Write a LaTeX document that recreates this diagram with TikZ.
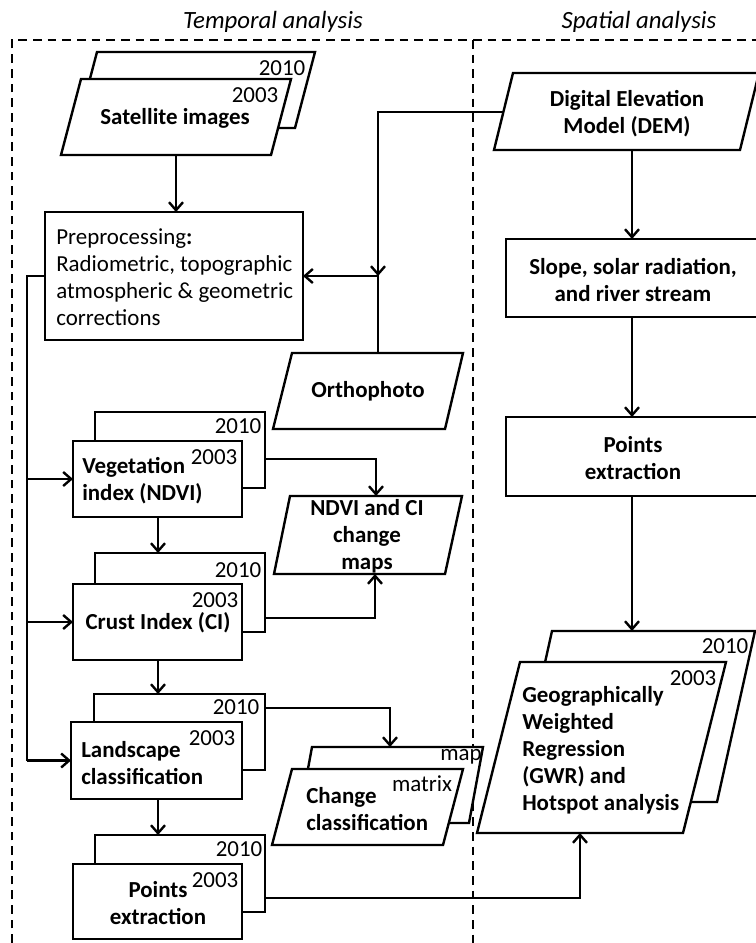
\documentclass[tikz,border=0pt]{standalone}
\usepackage{fontspec}
\setmainfont{Carlito}
\usetikzlibrary{arrows.meta,fit}
\begin{document}
\begin{tikzpicture}[x=0.75pt,y=-0.75pt,
  shp/.style={draw=black,line width=1.8pt,fill=white,line join=miter},
  rbox/.style={shp,inner sep=0pt,outer sep=0pt},
  ln/.style={line width=1.8pt},
  conn/.style={ln,-{Straight Barb[length=6pt,width=10.5pt]}},
  frame/.style={line width=1.5pt,dash pattern=on 6.5pt off 4.5pt},
  lbl/.style={inner sep=0pt,font=\fontsize{17.2}{20.25}\selectfont},
  blbl/.style={inner sep=0pt,font=\fontsize{17.2}{20.25}\selectfont\bfseries},
  ttl/.style={inner sep=0pt,font=\fontsize{18.6}{20}\selectfont\itshape},
]
\clip (0,0) rectangle (756,943);

% frame and titles
\draw[frame] (12,943) -- (12,40) -- (760,40);
\draw[frame] (473,40) -- (473,943);
\node[ttl] (ttemp) at (273,22) {Temporal analysis};
\node[ttl] (tspat) at (639,22) {Spatial analysis};

% Satellite images
\draw[shp] (77,128) -- (97,52) -- (315,52) -- (295,128) -- cycle;
\node[lbl] (sat10) at (282,68) {2010};
\draw[shp] (61,155) -- (81,79) -- (291,79) -- (271,155) -- cycle;
\node[lbl] (sat03) at (255,95) {2003};
\node[blbl] (sat) at (175,118) {Satellite images};
\coordinate (satS) at (176,155);

% Preprocessing
\node[rbox,fit={(45,212) (303,340)}] (pre) {};
\node[lbl,align=left,anchor=west] (preT) at (56,277) {Preprocessing\textbf{:}\\Radiometric, topographic\\atmospheric \& geometric\\corrections};
\draw[conn] (satS) -- (pre.north -| satS);

% DEM
\draw[shp] (494,150) -- (513,73) -- (759,73) -- (740,150) -- cycle;
\node[blbl,align=center] (demT) at (627,114) {Digital Elevation\\Model (DEM)};
\coordinate (demW) at (503,112);
\coordinate (demS) at (632,150);
\coordinate (jn) at (378,276);

% Orthophoto
\draw[shp] (273,429) -- (292,353) -- (463,353) -- (445,429) -- cycle;
\node[blbl] (orthoT) at (368,391) {Orthophoto};
\coordinate (orthoN) at (378,353);

\draw[conn] (demW) -| (jn);
\draw[conn] (orthoN) -- (jn) -- (pre.east);

% Slope
\node[rbox,fit={(506,239) (758,317)}] (slope) {};
\node[blbl,align=center] (slopeT) at (633,280) {Slope, solar radiation,\\and river stream};
\draw[conn] (demS) -- (slope.north -| demS);

% Points extraction (right)
\node[rbox,fit={(506,417) (758,496)}] (ptsR) {};
\node[blbl,align=center] (ptsRT) at (633,458) {Points\\extraction};
\draw[conn] (slope.south -| demS) -- (ptsR.north -| demS);

% GWR
\draw[shp] (514,802) -- (552,631) -- (755,631) -- (717,802) -- cycle;
\node[lbl] (gwr10) at (725,646) {2010};
\draw[shp] (477,833) -- (520,662) -- (726,662) -- (683,833) -- cycle;
\node[lbl] (gwr03) at (693,678) {2003};
\node[blbl,align=left,anchor=west] (gwrT) at (522,750) {Geographically\\Weighted\\Regression\\(GWR) and\\Hotspot analysis};
\coordinate (gwrN) at (632,631);
\coordinate (gwrS) at (580,833);
\draw[conn] (ptsR.south -| gwrN) -- (gwrN);

% Vegetation index
\node[rbox,fit={(95,412) (265,488)}] (vegB) {};
\node[lbl] (veg10) at (238,426) {2010};
\node[rbox,fit={(73,441) (242,517)}] (veg) {};
\node[lbl] (veg03) at (214,457) {2003};
\node[blbl,align=left,anchor=west] (vegT) at (82,481) {Vegetation\\index (NDVI)};

% Crust index
\node[rbox,fit={(95,553) (265,632)}] (cruB) {};
\node[lbl] (cru10) at (238,570) {2010};
\node[rbox,fit={(73,584) (242,660)}] (cru) {};
\node[lbl] (cru03) at (215,600) {2003};
\node[blbl] (cruT) at (158,623) {Crust Index (CI)};

% Landscape classification
\node[rbox,fit={(94,694) (265,770)}] (lanB) {};
\node[lbl] (lan10) at (236,707) {2010};
\node[rbox,fit={(71,722) (242,799)}] (lan) {};
\node[lbl] (lan03) at (212,738) {2003};
\node[blbl,align=left,anchor=west] (lanT) at (81,763) {Landscape\\classification};

% Points extraction (left)
\node[rbox,fit={(95,835) (265,912)}] (ptsB) {};
\node[lbl] (pts10) at (239,849) {2010};
\node[rbox,fit={(73,864) (242,939)}] (pts) {};
\node[lbl] (pts03) at (215,880) {2003};
\node[blbl,align=center] (ptsT) at (158,903) {Points\\extraction};

% NDVI and CI change maps
\draw[shp] (274,574) -- (290,496) -- (462,496) -- (445,574) -- cycle;
\node[blbl,align=center] (ndT) at (367,536) {NDVI and CI\\change\\maps};
\coordinate (ndN) at (376,496);
\coordinate (ndS) at (375,574);

% Change classification
\draw[shp] (298,823) -- (312,747) -- (483,747) -- (469,823) -- cycle;
\node[lbl] (chmap) at (461,757) {map};
\draw[shp] (272,845) -- (292,769) -- (463,769) -- (443,845) -- cycle;
\node[lbl] (chmat) at (422,784) {matrix};
\node[blbl,align=left,anchor=west] (chT) at (306,809) {Change\\classification};
\coordinate (chN) at (390,747);

% left bus
\coordinate (bus) at (27,276);
\draw[ln] (pre.west) -- (bus) -- (bus |- lan.west);
\draw[conn] (bus |- veg.west) -- (veg.west);
\draw[conn] (bus |- cru.west) -- (cru.west);
\draw[conn] (bus |- lan.west) -- (lan.west);

% vertical flow
\coordinate (cx) at (158,0);
\draw[conn] (veg.south -| cx) -- (cruB.north -| cx);
\draw[conn] (cru.south -| cx) -- (lanB.north -| cx);
\draw[conn] (lan.south -| cx) -- (ptsB.north -| cx);

% outputs
\coordinate (vegOut) at (265,459);
\coordinate (cruOut) at (265,618);
\coordinate (lanOut) at (265,708);
\coordinate (ptsOut) at (265,898);
\draw[conn] (vegOut) -| (ndN);
\draw[conn] (cruOut) -| (ndS);
\draw[conn] (lanOut) -| (chN);
\draw[conn] (ptsOut) -| (gwrS);
\end{tikzpicture}
\end{document}
